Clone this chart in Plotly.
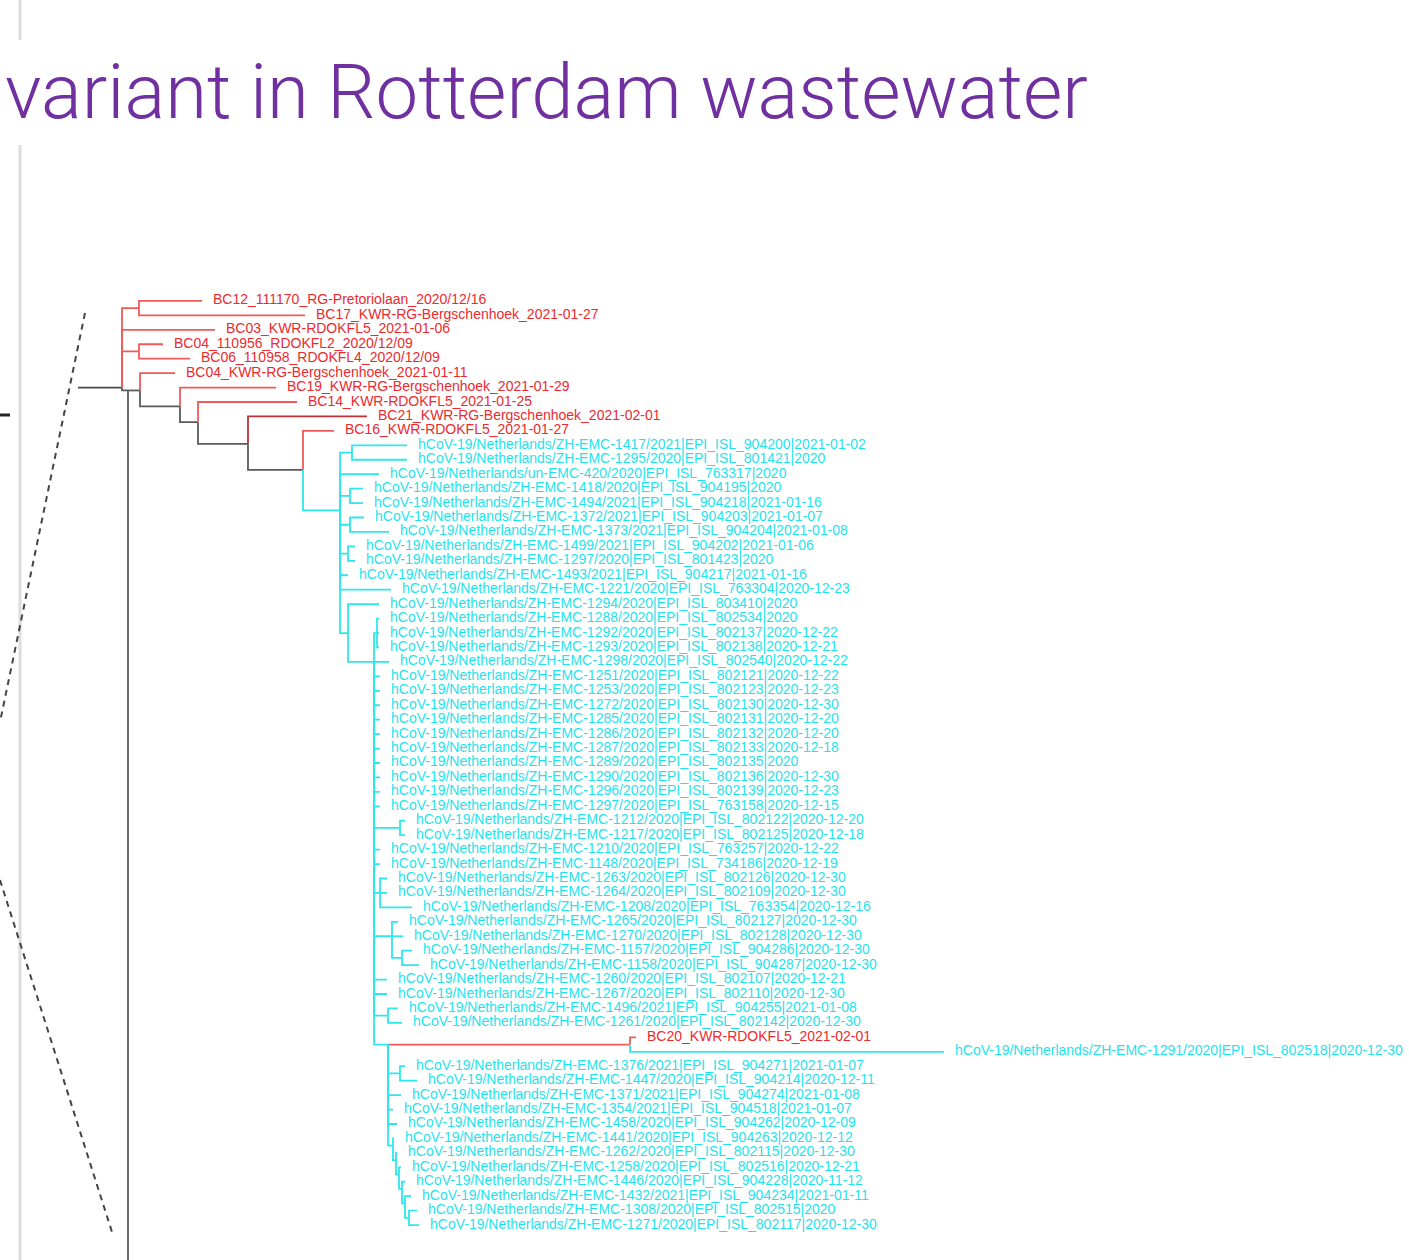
import plotly.graph_objects as go

# ---------------------------------------------------------------------------
# Phylogeny of wastewater (BC..) and clinical (hCoV-19) SARS-CoV-2 sequences
# Depth = distance from the root stem, row = vertical order of the tips.
# ---------------------------------------------------------------------------

# internal nodes
node_ids = ["R", "A", "B", "R2", "REST", "G1", "G2", "G3", "G4", "G5",
            "C0", "C1", "C2", "C3", "C4", "C5", "C6", "C7", "C8", "C9",
            "C10", "C11", "C12", "C14", "C13", "C15",
            "N1", "N2", "N3", "N4", "N5", "N6"]
node_parent = [None, "R", "R", "R", "R2", "R2", "G1", "G2", "G3", "G4",
               "G5", "C0", "C0", "C0", "C0", "C0", "C5", "C6", "C6", "C6",
               "C6", "C10", "C6", "C6", "C14", "C14",
               "C14", "N1", "N2", "N3", "N4", "N5"]
node_depth = [4.4, 6.1, 6.1, 5.0, 18.0, 6.2, 10.2, 12.0, 17.0, 22.5,
              26.2, 27.4, 27.2, 27.2, 27.0, 27.0, 29.6, 29.9, 32.2, 30.2,
              31.4, 32.4, 31.0, 31.0, 55.2, 32.2,
              31.5, 31.8, 32.1, 32.4, 32.7, 33.1]
node_row = [6.0, 0.5, 3.5, 6.2, 67.5, 6.2, 7.3, 8.4, 9.9, 11.7,
            14.5, 10.5, 13.5, 15.5, 17.5, 23.0, 25.0, 23.0, 36.5, 41.0,
            44.0, 45.5, 49.5, 51.5, 51.5, 53.5,
            58.5, 59.5, 60.5, 61.5, 62.5, 63.5]
node_kind = ["root", "ww", "ww", "anc", "anc", "anc", "anc", "anc", "anc", "anc",
             "clin", "clin", "clin", "clin", "clin", "clin", "clin", "clin", "clin", "clin",
             "clin", "clin", "clin", "clin", "ww", "clin",
             "clin", "clin", "clin", "clin", "clin", "clin"]
stem_start = 0.0

# tips, listed top to bottom
leaf_labels = [
    "BC12_111170_RG-Pretoriolaan_2020/12/16",
    "BC17_KWR-RG-Bergschenhoek_2021-01-27",
    "BC03_KWR-RDOKFL5_2021-01-06",
    "BC04_110956_RDOKFL2_2020/12/09",
    "BC06_110958_RDOKFL4_2020/12/09",
    "BC04_KWR-RG-Bergschenhoek_2021-01-11",
    "BC19_KWR-RG-Bergschenhoek_2021-01-29",
    "BC14_KWR-RDOKFL5_2021-01-25",
    "BC21_KWR-RG-Bergschenhoek_2021-02-01",
    "BC16_KWR-RDOKFL5_2021-01-27",
    "hCoV-19/Netherlands/ZH-EMC-1417/2021|EPI_ISL_904200|2021-01-02",
    "hCoV-19/Netherlands/ZH-EMC-1295/2020|EPI_ISL_801421|2020",
    "hCoV-19/Netherlands/un-EMC-420/2020|EPI_ISL_763317|2020",
    "hCoV-19/Netherlands/ZH-EMC-1418/2020|EPI_ISL_904195|2020",
    "hCoV-19/Netherlands/ZH-EMC-1494/2021|EPI_ISL_904218|2021-01-16",
    "hCoV-19/Netherlands/ZH-EMC-1372/2021|EPI_ISL_904203|2021-01-07",
    "hCoV-19/Netherlands/ZH-EMC-1373/2021|EPI_ISL_904204|2021-01-08",
    "hCoV-19/Netherlands/ZH-EMC-1499/2021|EPI_ISL_904202|2021-01-06",
    "hCoV-19/Netherlands/ZH-EMC-1297/2020|EPI_ISL_801423|2020",
    "hCoV-19/Netherlands/ZH-EMC-1493/2021|EPI_ISL_904217|2021-01-16",
    "hCoV-19/Netherlands/ZH-EMC-1221/2020|EPI_ISL_763304|2020-12-23",
    "hCoV-19/Netherlands/ZH-EMC-1294/2020|EPI_ISL_803410|2020",
    "hCoV-19/Netherlands/ZH-EMC-1288/2020|EPI_ISL_802534|2020",
    "hCoV-19/Netherlands/ZH-EMC-1292/2020|EPI_ISL_802137|2020-12-22",
    "hCoV-19/Netherlands/ZH-EMC-1293/2020|EPI_ISL_802138|2020-12-21",
    "hCoV-19/Netherlands/ZH-EMC-1298/2020|EPI_ISL_802540|2020-12-22",
    "hCoV-19/Netherlands/ZH-EMC-1251/2020|EPI_ISL_802121|2020-12-22",
    "hCoV-19/Netherlands/ZH-EMC-1253/2020|EPI_ISL_802123|2020-12-23",
    "hCoV-19/Netherlands/ZH-EMC-1272/2020|EPI_ISL_802130|2020-12-30",
    "hCoV-19/Netherlands/ZH-EMC-1285/2020|EPI_ISL_802131|2020-12-20",
    "hCoV-19/Netherlands/ZH-EMC-1286/2020|EPI_ISL_802132|2020-12-20",
    "hCoV-19/Netherlands/ZH-EMC-1287/2020|EPI_ISL_802133|2020-12-18",
    "hCoV-19/Netherlands/ZH-EMC-1289/2020|EPI_ISL_802135|2020",
    "hCoV-19/Netherlands/ZH-EMC-1290/2020|EPI_ISL_802136|2020-12-30",
    "hCoV-19/Netherlands/ZH-EMC-1296/2020|EPI_ISL_802139|2020-12-23",
    "hCoV-19/Netherlands/ZH-EMC-1297/2020|EPI_ISL_763158|2020-12-15",
    "hCoV-19/Netherlands/ZH-EMC-1212/2020|EPI_ISL_802122|2020-12-20",
    "hCoV-19/Netherlands/ZH-EMC-1217/2020|EPI_ISL_802125|2020-12-18",
    "hCoV-19/Netherlands/ZH-EMC-1210/2020|EPI_ISL_763257|2020-12-22",
    "hCoV-19/Netherlands/ZH-EMC-1148/2020|EPI_ISL_734186|2020-12-19",
    "hCoV-19/Netherlands/ZH-EMC-1263/2020|EPI_ISL_802126|2020-12-30",
    "hCoV-19/Netherlands/ZH-EMC-1264/2020|EPI_ISL_802109|2020-12-30",
    "hCoV-19/Netherlands/ZH-EMC-1208/2020|EPI_ISL_763354|2020-12-16",
    "hCoV-19/Netherlands/ZH-EMC-1265/2020|EPI_ISL_802127|2020-12-30",
    "hCoV-19/Netherlands/ZH-EMC-1270/2020|EPI_ISL_802128|2020-12-30",
    "hCoV-19/Netherlands/ZH-EMC-1157/2020|EPI_ISL_904286|2020-12-30",
    "hCoV-19/Netherlands/ZH-EMC-1158/2020|EPI_ISL_904287|2020-12-30",
    "hCoV-19/Netherlands/ZH-EMC-1260/2020|EPI_ISL_802107|2020-12-21",
    "hCoV-19/Netherlands/ZH-EMC-1267/2020|EPI_ISL_802110|2020-12-30",
    "hCoV-19/Netherlands/ZH-EMC-1496/2021|EPI_ISL_904255|2021-01-08",
    "hCoV-19/Netherlands/ZH-EMC-1261/2020|EPI_ISL_802142|2020-12-30",
    "BC20_KWR-RDOKFL5_2021-02-01",
    "hCoV-19/Netherlands/ZH-EMC-1291/2020|EPI_ISL_802518|2020-12-30",
    "hCoV-19/Netherlands/ZH-EMC-1376/2021|EPI_ISL_904271|2021-01-07",
    "hCoV-19/Netherlands/ZH-EMC-1447/2020|EPI_ISL_904214|2020-12-11",
    "hCoV-19/Netherlands/ZH-EMC-1371/2021|EPI_ISL_904274|2021-01-08",
    "hCoV-19/Netherlands/ZH-EMC-1354/2021|EPI_ISL_904518|2021-01-07",
    "hCoV-19/Netherlands/ZH-EMC-1458/2020|EPI_ISL_904262|2020-12-09",
    "hCoV-19/Netherlands/ZH-EMC-1441/2020|EPI_ISL_904263|2020-12-12",
    "hCoV-19/Netherlands/ZH-EMC-1262/2020|EPI_ISL_802115|2020-12-30",
    "hCoV-19/Netherlands/ZH-EMC-1258/2020|EPI_ISL_802516|2020-12-21",
    "hCoV-19/Netherlands/ZH-EMC-1446/2020|EPI_ISL_904228|2020-11-12",
    "hCoV-19/Netherlands/ZH-EMC-1432/2021|EPI_ISL_904234|2021-01-11",
    "hCoV-19/Netherlands/ZH-EMC-1308/2020|EPI_ISL_802515|2020",
    "hCoV-19/Netherlands/ZH-EMC-1271/2020|EPI_ISL_802117|2020-12-30",
]
leaf_parent = ["A", "A", "R", "B", "B", "G1", "G2", "G3", "G4", "G5",
               "C1", "C1", "C0", "C2", "C2", "C3", "C3", "C4", "C4", "C0",
               "C0", "C5", "C7", "C7", "C7", "C6",
               "C6", "C6", "C6", "C6", "C6", "C6", "C6", "C6", "C6", "C6",
               "C8", "C8", "C6", "C6", "C9", "C9", "C9", "C10", "C10", "C11",
               "C11", "C6", "C6", "C12", "C12", "C13", "C13", "C15", "C15", "C14",
               "C14", "C14", "N1", "N2", "N3", "N4", "N5", "N6", "N6"]
leaf_depth = [12.4, 22.7, 13.7, 8.5, 11.2, 9.7, 19.8, 21.9, 28.9, 25.6,
              32.9, 32.9, 30.1, 28.5, 28.5, 28.6, 31.1, 27.7, 27.7, 27.0,
              31.3, 30.1, 30.1, 30.1, 30.1, 31.1,
              30.2, 30.2, 30.2, 30.2, 30.2, 30.2, 30.2, 30.2, 30.2, 30.2,
              32.7, 32.7, 30.2, 30.2, 30.9, 30.9, 33.4, 32.0, 32.5, 33.4,
              34.1, 30.9, 30.9, 32.0, 32.4, 55.8, 86.6, 32.7, 33.9, 32.3,
              31.5, 31.9, 31.6, 31.9, 32.3, 32.7, 33.3, 33.9, 34.1]
leaf_kind = ["ww", "ww", "ww", "ww", "ww", "ww", "ww", "ww", "ww_dark", "ww"] + \
            ["clin"] * 41 + ["ww", "clin"] + ["clin"] * 12

line_colors = {"root": "#4a4a4a", "anc": "#5a5a5a", "ww": "#f25a5a",
               "ww_dark": "#b8323a", "clin": "#2ce8ee"}
label_colors = {"ww": "#ec2a2e", "ww_dark": "#ec2a2e", "clin": "#1fe3ec"}

# ---------------------------------------------------------------------------
# build elbow branches, one trace per colour
# ---------------------------------------------------------------------------
pos = {n: (d, r) for n, d, r in zip(node_ids, node_depth, node_row)}
segs = {k: ([], []) for k in line_colors}

def add_branch(parent, depth, row, kind):
    px, pr = pos[parent]
    xs, ys = segs[kind]
    xs += [px, px, depth, None]
    ys += [pr, row, row, None]

for n, p, d, r, k in zip(node_ids, node_parent, node_depth, node_row, node_kind):
    if p is None:
        xs, ys = segs[k]
        xs += [stem_start, d, None]
        ys += [r, r, None]
    else:
        add_branch(p, d, r, k)

leaf_rows = list(range(len(leaf_labels)))
for p, d, r, k in zip(leaf_parent, leaf_depth, leaf_rows, leaf_kind):
    add_branch(p, d, r, k)

fig = go.Figure()
for k, (xs, ys) in segs.items():
    fig.add_trace(go.Scatter(x=xs, y=ys, mode="lines", hoverinfo="skip",
                             line=dict(color=line_colors[k], width=1.8),
                             showlegend=False))

label_gap = 1.1
for grp in ("ww", "clin"):
    sel = [i for i, k in enumerate(leaf_kind) if k.startswith(grp)]
    fig.add_trace(go.Scatter(
        x=[leaf_depth[i] + label_gap for i in sel],
        y=[leaf_rows[i] for i in sel],
        text=[leaf_labels[i] for i in sel],
        mode="text", textposition="middle right", hoverinfo="skip",
        textfont=dict(family="Liberation Sans, Arial, sans-serif", size=14,
                      color=label_colors[grp]),
        showlegend=False))

# ---------------------------------------------------------------------------
# slide furniture: title, panel border, zoom guide lines
# ---------------------------------------------------------------------------
W, H = 1409, 1260

def px(x, y):
    return x / W, 1 - y / H

shapes = []
for (x0, y0, x1, y1) in [(20, 0, 20, 40), (20, 145, 20, 1260)]:
    a, b = px(x0, y0)
    c, d = px(x1, y1)
    shapes.append(dict(type="line", xref="paper", yref="paper", x0=a, y0=b, x1=c, y1=d,
                       line=dict(color="#dcdcdc", width=3)))
for (x0, y0, x1, y1) in [(85, 313, 0, 722), (0, 880, 112, 1232)]:
    a, b = px(x0, y0)
    c, d = px(x1, y1)
    shapes.append(dict(type="line", xref="paper", yref="paper", x0=a, y0=b, x1=c, y1=d,
                       line=dict(color="#444444", width=2, dash="6px,5px")))
a, b = px(0, 415)
c, d = px(10, 415)
shapes.append(dict(type="line", xref="paper", yref="paper", x0=a, y0=b, x1=c, y1=d,
                   line=dict(color="#222222", width=3)))

fig.update_layout(
    width=W, height=H,
    margin=dict(l=0, r=0, t=0, b=0),
    paper_bgcolor="white", plot_bgcolor="white",
    xaxis=dict(range=[-7.8, 133.1], visible=False, fixedrange=True),
    yaxis=dict(range=[66.42, -20.84], visible=False, fixedrange=True),
    shapes=shapes,
    annotations=[dict(
        text="variant in Rotterdam wastewater", xref="paper", yref="paper",
        x=1090 / W, y=1 - 92 / H, xanchor="right", yanchor="middle",
        showarrow=False,
        font=dict(family="Roboto, sans-serif", size=76, weight=300,
                  color="#7030a0"))],
)

fig.write_html("out.html")
